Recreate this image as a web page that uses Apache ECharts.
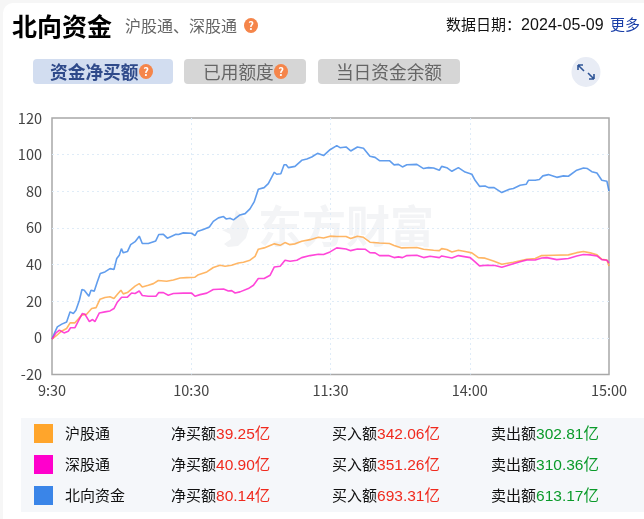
<!DOCTYPE html>
<html lang="zh"><head><meta charset="utf-8">
<script src="https://cdn.jsdelivr.net/npm/echarts@6/dist/echarts.min.js"></script>
<style>
html,body{margin:0;padding:0;width:644px;height:519px;overflow:hidden;background:#f6f6f6;font-family:"Noto Sans CJK SC","Noto Sans",sans-serif}
#page{position:absolute;left:3px;top:3px;width:641px;height:516px;background:#fff;border-radius:10px 0 0 0}
#chart{position:absolute;left:0;top:0;width:644px;height:519px}
.t{position:absolute;white-space:nowrap;line-height:1}
.q{position:absolute;width:14px;height:15px;border-radius:50%;background:#f5854a;color:#fff;font-size:11px;font-weight:700;line-height:15px;text-align:center}
.tab{position:absolute;top:59px;height:25px;border-radius:4px;background:#d6d6d6;color:#666;font-size:17.7px;line-height:25px;text-align:center}
#table{position:absolute;left:21px;top:418px;width:623px;height:94px;background:#f5f7fa}
.sw{position:absolute;left:34px;width:19px;height:19px}
.n{font-family:"Liberation Sans","Noto Sans CJK SC",sans-serif;font-size:15.5px}
</style></head><body>
<div id="page"></div>
<div id="table"></div>
<div id="chart"></div>
<div class="t" style="left:12px;top:13px;font-size:25px;font-weight:700;color:#000">北向资金</div>
<div class="t" style="left:125px;top:17px;font-size:16px;color:#666">沪股通、深股通</div>
<div class="q" style="left:244px;top:18px">?</div>
<div class="t" style="left:446px;top:16px;font-size:15px;color:#111">数据日期：<span style="font-family:'Liberation Sans';font-size:16px;letter-spacing:.1px">2024-05-09</span></div>
<div class="t" style="left:610px;top:16px;font-size:15px;color:#1a3fa8">更多</div>
<div class="tab" style="left:33px;width:140px;background:#d2ddf0;color:#2f4a8a;font-weight:700;text-align:left;text-indent:17px">资金净买额</div>
<div class="q" style="left:139px;top:64px">?</div>
<div class="tab" style="left:184px;width:122px;text-align:left;text-indent:19px">已用额度</div>
<div class="q" style="left:274px;top:64px">?</div>
<div class="tab" style="left:318px;width:142px">当日资金余额</div>
<svg style="position:absolute;left:571px;top:57px" width="30" height="30" viewBox="0 0 30 30">
<ellipse cx="15" cy="15" rx="14.5" ry="15" fill="#e8ecf5"/>
<path d="M7 8 L13 14 M7 8 H12 M7 8 V13 M23 22 L17 16 M23 22 H18 M23 22 V17" stroke="#2f5597" stroke-width="1.6" fill="none"/>
</svg>
<script>
const tickLabels = ['9:30','10:30','11:30','14:00','15:00'];
const yMin = -20, yMax = 120, yStep = 20;

const blueMin = [0,1.3,2.3,4.2,6.3,7.8,9.2,10.3,11.8,12.9,13.9,15.9,16.8,18.2,19.5,20.8,22.8,25,26.7,27.9,29,29.9,30.7,32.5,33.9,35.8,37.6,38.9,41.5,44.7,46,48,49.7,51.6,53.4,54.5,56.6,60.2,61.6,62.6,65.2,67.8,69.5,71.7,73.9,75,76.7,78.2,81,83.2,85.3,87.1,88.9,91.4,93.2,95.8,96.8,98.6,100,100.9,101.9,104.7,107.6,109.8,111.9,114.4,117,119.8,122.7,124.1,126.7,128.7,131.6,134.2,137,139.2,141.1,145.4,147.4,149.3,151,152.9,157.2,160.1,162.2,164.4,166.9,167.9,170.1,172.3,175.1,178,180.9,182.3,184.2,186.6,188.1,190.5,193.8,197.1,198.8,201.7,204.3,205.3,208.2,210,211.5,213.9,217.5,220.4,222.5,226.1,229,230.7,232.6,234.8,236.9,239.1,240];
const blueVal = [-0.7,3.3,6,7.5,8.7,14.2,13.3,15.1,20.5,26.4,26,22.7,26,25.5,30.5,35.1,36,37.8,37.3,43.3,45.1,48.7,46.4,47.1,50.9,52.5,55.5,51.5,51.5,52.9,56.4,56.5,54.4,55.5,56.5,56.4,57.3,57.1,55.8,58,59.1,60.5,63.6,65.5,66.2,64.9,65.3,64.4,67.1,67.8,70.4,74.2,81.1,82,84.2,90.4,89.3,89.6,94.5,94.5,92.9,93.6,96.9,97.6,98.7,100.7,99.5,102.7,104.9,103.8,104.2,102,104.2,103.5,99.1,98.5,96.7,96.7,94.4,94.7,93.3,94.5,94.7,92.4,92.9,92.7,91.5,93.6,92.9,90.9,92.9,90.5,89.3,86,82.7,82.9,82,82,79.3,81.1,81.5,83.3,83.8,86,86,86.4,88.4,89.1,87.6,88.4,88.2,91.5,92.7,92.4,90.7,90,86,85.5,80.14];

const huMin = [0,2,3.7,6.3,7.8,9.9,12.8,14.9,17.1,19,20.7,22.8,25,26.7,28.2,29.7,30.7,32.5,35.8,37.6,38.9,41.5,43.7,45.8,49.4,52.3,55.2,58,61.6,63.1,66.7,69.5,72.4,74.6,77.4,80.3,82.5,85.3,87.5,88.9,91.4,93.2,95.8,98.3,100.4,102.3,104.7,107.6,111.2,114.8,117,119.8,122.7,126.7,128.7,131.6,134.2,137,141.1,145.4,147.4,150.7,157.2,160.1,164.4,166.9,167.9,170.1,172.3,175.1,178,180.9,183.7,186.6,190.2,193.8,198.8,204.6,208.2,211,216,222.5,226.1,229,231.9,234.8,236.9,239.1,240];
const huVal = [-0.7,1.3,3.3,5.1,8.2,8.2,12.4,12.9,16,16.5,21.1,22,22.4,21.5,23.8,26,24,24.7,28.2,29.6,27.8,28.7,29.6,31.3,30.9,31.6,32.7,32.9,33.1,34.5,36,38.4,39.6,39.1,39.6,40.9,41.3,42.4,44.5,48.4,49.1,50,51.3,50.5,52,50.9,51.3,52.7,53.6,54.9,54.5,55.5,55.3,55.3,54.2,55.5,54.9,52.2,51.8,51.5,50.4,49.1,49.3,48.4,47.8,47.6,48.7,48.2,46.9,47.8,47.1,46.4,43.8,43.5,42,40.2,41.3,42.9,43.3,44.9,45.1,45.3,46.5,47.1,46.4,45.3,42.9,42.5,39.25];

const shenMin = [0,1.7,3.2,5.2,7,8,9.9,11.4,13.1,14.2,16.1,17.5,18.5,20.4,22.8,25,26.7,28.2,30,32.5,34.3,35.8,37.6,38.9,41.5,44.8,46,48,50.1,52.3,56.6,60.2,61.6,63.8,66.7,69.5,73.9,76,77.4,78.9,81,84.6,86.8,88.9,91.4,94,95.8,98.3,100.4,102.6,105.5,107.6,111.2,114.8,117,119.8,122.7,126.7,128.7,131.6,134.9,137,139.2,141.1,145,147.4,149.3,151,152.9,157.2,160.1,162.9,166.9,167.9,172.3,175.1,180.2,182.3,184.2,187.3,190.9,193.8,198.8,201.7,204.6,208.2,211,213.2,217.5,222.5,226.1,229,231.9,234.8,236.9,239.1,240];
const shenVal = [-0.7,2.7,4.2,2.7,3.6,5.5,5.6,9.3,13.3,12.9,8.9,10,8.9,13.6,14.2,14.7,16,19.6,22.2,22.2,24.5,24.2,25.6,23.1,22.7,22.7,24.7,24.7,23.3,24.2,24.4,24.4,22.7,23.6,24.4,26.4,26.7,25.6,25.8,24.5,25.1,26.9,28.7,32.4,32.4,34.2,38.7,39.1,42.4,41.8,42.4,43.8,44.9,45.6,45.5,46.9,49.1,48.5,47.6,48.5,48.4,46.5,46.4,44.9,44.9,43.8,44.2,43.8,44.9,45.1,43.8,44.5,43.8,44.7,43.6,44.9,43.8,41.5,39.3,39.6,39.5,38.5,40.5,41.5,42.5,42.5,43.6,43.8,42.7,43.3,44.7,45.5,45.3,44.7,42.7,42.4,40.9];

const rowNames = ['沪股通','深股通','北向资金'];
const rowColors = ['#ffa52b','#ff00cc','#3a85e8'];
const netBuy = ['39.25亿','40.90亿','80.14亿'];
const buyIn = ['342.06亿','351.26亿','693.31亿'];
const sellOut = ['302.81亿','310.36亿','613.17亿'];

const zip = (a, b) => a.map((m, i) => [m, b[i]]);
const line = (name, mins, vals, color) => ({
  name, type:'line', showSymbol:false, smooth:false, animation:false,
  lineStyle:{color, width:1.6, opacity:0.8}, itemStyle:{color}, data:zip(mins, vals)
});

const dotted = {show:true, showMinLine:false, showMaxLine:false, lineStyle:{color:'#dfecf8', type:[2,3], width:1}};
const chart = echarts.init(document.getElementById('chart'), null, {renderer:'canvas'});
chart.setOption({
  animation:false,
  backgroundColor:'transparent',
  textStyle:{fontFamily:'"Noto Sans CJK SC","Noto Sans",sans-serif'},
  grid:{left:52, right:35, top:118, bottom:144.5, show:true, borderColor:'#a8a8a8', borderWidth:1.5, backgroundColor:'transparent'},
  xAxis:{type:'value', min:0, max:240, interval:60,
    axisLine:{show:false}, axisTick:{show:false}, splitLine:dotted,
    axisLabel:{color:'#444', fontSize:14.5, margin:9, showMinLabel:true, showMaxLabel:true,
      formatter:v => tickLabels[v/60]}},
  yAxis:{type:'value', min:yMin, max:yMax, interval:yStep,
    axisLine:{show:false}, axisTick:{show:false}, splitLine:dotted,
    axisLabel:{color:'#444', fontSize:14.5, margin:10}},
  graphic:[
    {type:'text', left:258, top:204, z:0, silent:true,
     style:{text:'东方财富', fill:'#f3f4f6', font:'700 44px "Noto Sans CJK SC"'}},
    {type:'polygon', left:222, top:210, z:0, silent:true,
     shape:{points:[[14,0],[22,8],[27,18],[24,28],[16,36],[6,37],[2,34],[9,29],[8,24],[0,20],[8,18],[12,10]]},
     style:{fill:'#f2f3f5'}}
  ],
  series:[
    line('北向资金', blueMin, blueVal, '#3a85e8'),
    line('沪股通', huMin, huVal, '#ffa43f'),
    line('深股通', shenMin, shenVal, '#ff18d0')
  ]
});

const rowTops = [424, 455, 486];
const mk = (html, css) => { const d = document.createElement('div'); d.className='t'; d.style.cssText = css; d.innerHTML = html; document.body.appendChild(d); };
rowNames.forEach((n, i) => {
  const y = rowTops[i], ty = y + 1;
  const s = document.createElement('div'); s.className='sw'; s.style.top = y + 'px'; s.style.background = rowColors[i]; document.body.appendChild(s);
  const base = 'top:'+ty+'px;font-size:15px;color:#111;';
  mk(n, base + 'left:65px');
  mk('净买额<span class="n" style="color:#f02a1e">'+netBuy[i]+'</span>', base + 'left:171px');
  mk('买入额<span class="n" style="color:#f02a1e">'+buyIn[i]+'</span>', base + 'left:332px');
  mk('卖出额<span class="n" style="color:#0a9a2a">'+sellOut[i]+'</span>', base + 'left:491px');
});
</script>
</body></html>
